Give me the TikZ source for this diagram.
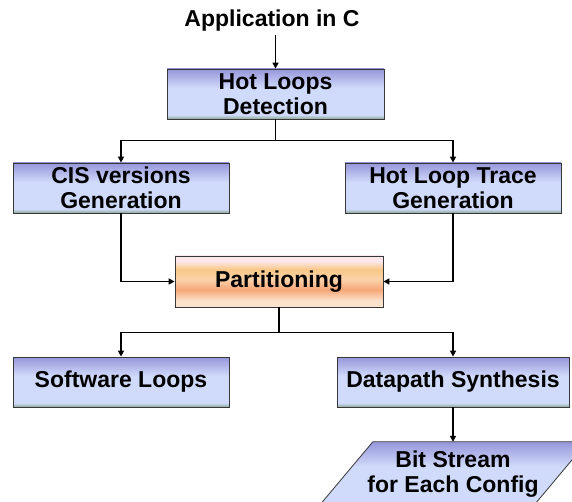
\documentclass[tikz,border=0pt]{standalone}
\usepackage{fontspec}
\setmainfont{Liberation Sans}
\usetikzlibrary{shapes.geometric, arrows.meta, positioning, calc}

% box colours
\definecolor{boxtop}{RGB}{150,150,218}
\definecolor{boxlite}{RGB}{208,218,250}
\definecolor{boxbot}{RGB}{140,168,150}
\definecolor{parttop}{RGB}{252,232,236}
\definecolor{partorg}{RGB}{249,200,136}
\definecolor{partpeach}{RGB}{250,210,170}
\definecolor{partdeep}{RGB}{246,166,120}
\definecolor{partbot}{RGB}{252,226,205}
\definecolor{edgegray}{RGB}{55,55,55}

\pgfdeclareverticalshading{bluebox}{100bp}{color(0bp)=(boxbot); color(25bp)=(boxbot); color(29bp)=(boxlite); color(56bp)=(boxlite); color(75bp)=(boxtop); color(100bp)=(boxtop)}
\pgfdeclareverticalshading{orangebox}{100bp}{color(0bp)=(partbot); color(25bp)=(partbot); color(31bp)=(partbot); color(42bp)=(partdeep); color(52bp)=(partpeach); color(62bp)=(partorg); color(70bp)=(parttop); color(100bp)=(parttop)}

\tikzset{
  boxfont/.style={font=\bfseries\fontsize{23}{25.5}\selectfont},
  flowbox/.style={draw=edgegray, line width=0.8pt, shade, shading=bluebox,
    minimum height=50pt, inner sep=0pt, align=center, boxfont},
  partbox/.style={flowbox, shading=orangebox},
  databox/.style={inner sep=0pt, align=center, boxfont, minimum width=214pt, minimum height=64pt},
  link/.style={line width=1.6pt, -{Triangle[length=6pt,width=6pt]}}
}

\begin{document}
\begin{tikzpicture}[x=1pt, y=-1pt]
        \useasboundingbox (0,0) rectangle (572,502);
        \clip (0,0) rectangle (572,502);

        % input
        \node[boxfont, anchor=base] (app) at (272,27) {Application in C};

        % flow boxes
        \node[flowbox, minimum width=217pt] (hotloops) at (275.5,94) {Hot Loops\\Detection};
        \node[flowbox, minimum width=216pt] (cisgen) at (121,188) {CIS versions\\Generation};
        \node[flowbox, minimum width=216pt] (tracegen) at (453,188) {Hot Loop Trace\\Generation};
        \node[partbox, minimum width=208pt, minimum height=51pt] (partition) at (279,281.5) {Partitioning};
        \node[flowbox, minimum width=216pt] (swloops) at (121,382) {Software Loops};
        \node[flowbox, minimum width=232pt] (dpsynth) at (453,382) {Datapath Synthesis};

        % output: parallelogram drawn round the text node
        \node[databox] (bitstream) at (453,474) {};
        \shade[shading=bluebox, draw=edgegray, line width=0.8pt]
            ($(bitstream.north west)+(27,0)$) -- ($(bitstream.north east)+(27,0)$)
            -- ($(bitstream.south east)+(-27,0)$) -- ($(bitstream.south west)+(-27,0)$) -- cycle;
        \node[boxfont, align=center] at (bitstream) {Bit Stream\\for Each Config};

        % connectors
        \draw[link] (app.south -| hotloops) -- (hotloops.north);
        \draw[link] (hotloops.south) -- ++(0,21) -| (cisgen.north);
        \draw[link] (hotloops.south) -- ++(0,21) -| (tracegen.north);
        \draw[link] (cisgen.south) |- (partition.west);
        \draw[link] (tracegen.south) |- (partition.east);
        \draw[link] (partition.south) -- ++(0,25) -| (swloops.north);
        \draw[link] (partition.south) -- ++(0,25) -| (dpsynth.north);
        \draw[link] (dpsynth.south) -- (bitstream.north);
\end{tikzpicture}
\end{document}
